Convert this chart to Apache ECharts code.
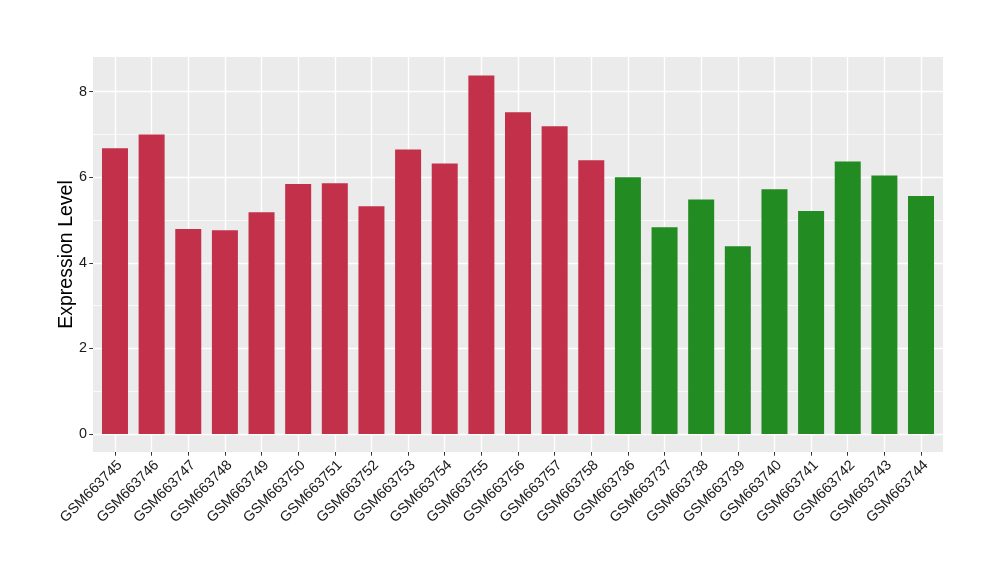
<!DOCTYPE html>
<html><head><meta charset="utf-8">
<script src="https://cdn.jsdelivr.net/npm/echarts@6/dist/echarts.min.js"></script>
<style>html,body{margin:0;padding:0;background:#fff}#c{width:1000px;height:580px}</style>
</head><body><div id="c"></div>
<script>
const categories = ['GSM663745','GSM663746','GSM663747','GSM663748','GSM663749','GSM663750','GSM663751','GSM663752','GSM663753','GSM663754','GSM663755','GSM663756','GSM663757','GSM663758','GSM663736','GSM663737','GSM663738','GSM663739','GSM663740','GSM663741','GSM663742','GSM663743','GSM663744'];
const values = [6.68,7.00,4.79,4.76,5.18,5.84,5.86,5.32,6.65,6.32,8.38,7.52,7.19,6.40,6.00,4.83,5.48,4.39,5.72,5.21,6.37,6.04,5.56];
const groups = ['A','A','A','A','A','A','A','A','A','A','A','A','A','A','B','B','B','B','B','B','B','B','B'];
const groupColors = {A:'#C3304A', B:'#228B22'};
const yTicks = [0,2,4,6,8];
const yMinor = [1,3,5,7];

const idx = categories.map((c,i)=>i);
const font = 'Liberation Sans, Arial, sans-serif';
const chart = echarts.init(document.getElementById('c'), null, {renderer:'canvas'});
chart.setOption({
  animation:false,
  grid:{left:93,right:57,top:57,bottom:128,show:true,backgroundColor:'#EBEBEB',borderWidth:0},
  xAxis:{type:'value',min:-0.6,max:categories.length-0.4,
    axisLine:{show:false,onZero:false},
    axisTick:{show:true,customValues:idx,length:3.7,lineStyle:{color:'#333',width:1}},
    axisLabel:{customValues:idx,rotate:45,margin:6,verticalAlign:'top',color:'#1A1A1A',fontSize:14.4,fontFamily:font,
      formatter:v=>categories[Math.round(v)]},
    splitLine:{show:true,lineStyle:{color:'#FFFFFF',width:1.4}}
  },
  yAxis:{type:'value',min:-0.42,max:8.81,
    name:'Expression Level',nameLocation:'middle',nameGap:16,nameMoveOverlap:false,
    nameTextStyle:{fontSize:19.5,color:'#000',fontFamily:font},
    axisLine:{show:false,onZero:false},
    axisTick:{show:true,customValues:yTicks,length:3.7,lineStyle:{color:'#333',width:1}},
    axisLabel:{customValues:yTicks,margin:6,color:'#1A1A1A',fontSize:14.4,fontFamily:font},
    splitLine:{show:true,lineStyle:{color:'#FFFFFF',width:1.4}}
  },
  series:[{
    type:'bar',barWidth:26,
    data:values.map((v,i)=>({value:[i,v],itemStyle:{color:groupColors[groups[i]]}})),
    markLine:{silent:true,symbol:'none',z:1,label:{show:false},
      lineStyle:{color:'#FFFFFF',width:0.7,type:'solid'},
      data:yMinor.map(y=>({yAxis:y}))}
  }]
});
</script></body></html>
